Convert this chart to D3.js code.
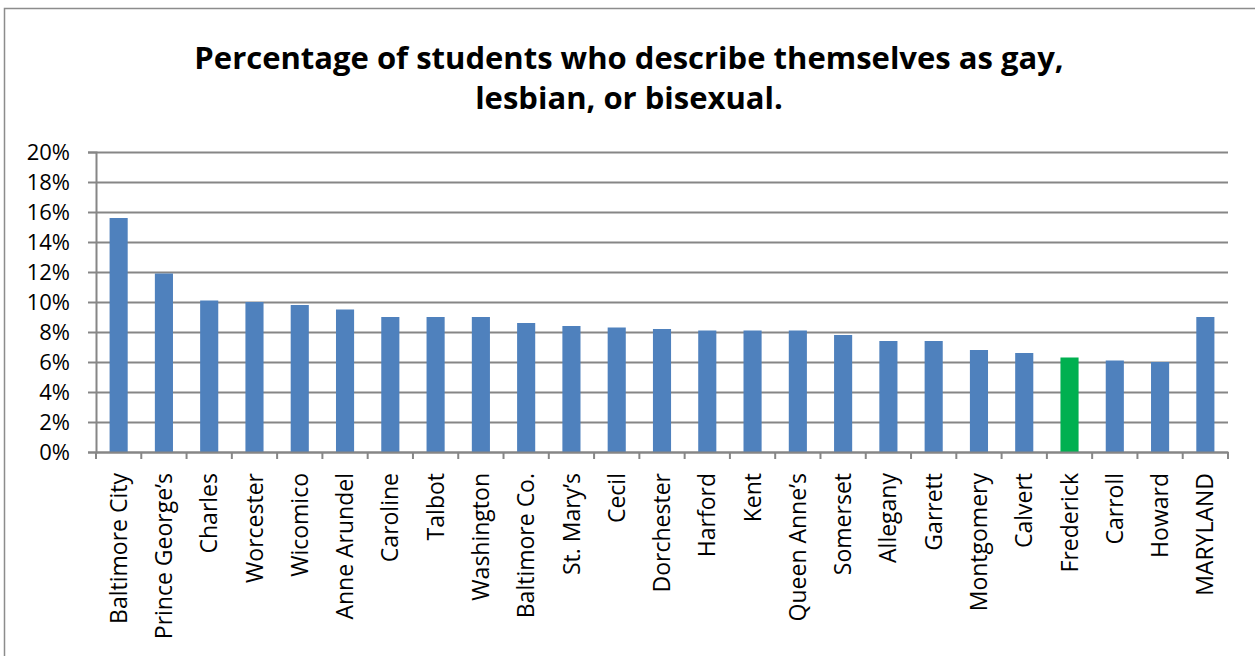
<!DOCTYPE html>
<html>
<head>
<meta charset="utf-8">
<script src="https://cdn.jsdelivr.net/npm/d3@7"></script>
<style>
  body { margin: 0; background: #fff; }
  svg { display: block; }
</style>
</head>
<body>
<svg id="chart" width="1255" height="656"></svg>
<script>
// chart data
const counties = ['Baltimore City', 'Prince George\u2019s', 'Charles', 'Worcester', 'Wicomico', 'Anne Arundel',
  'Caroline', 'Talbot', 'Washington', 'Baltimore Co.', 'St. Mary\u2019s', 'Cecil', 'Dorchester', 'Harford',
  'Kent', 'Queen Anne\u2019s', 'Somerset', 'Allegany', 'Garrett', 'Montgomery', 'Calvert', 'Frederick',
  'Carroll', 'Howard', 'MARYLAND'];
const percentGLB = [15.6, 11.9, 10.1, 10.0, 9.8, 9.5, 9.0, 9.0, 9.0, 8.6, 8.4, 8.3, 8.2, 8.1,
  8.1, 8.1, 7.8, 7.4, 7.4, 6.8, 6.6, 6.3, 6.1, 6.0, 9.0];
const highlighted = ['Frederick'];
const yTicks = [0, 2, 4, 6, 8, 10, 12, 14, 16, 18, 20];
const titleLines = ['Percentage of students who describe themselves as gay,', 'lesbian, or bisexual.'];

const svg = d3.select('#chart');
const margin = { top: 152, right: 27, bottom: 204, left: 96 };
const width = 1255, height = 656;

// outer chart border
svg.append('rect')
  .attr('x', 4.5).attr('y', 8.5)
  .attr('width', 1400).attr('height', 800)
  .attr('fill', 'none')
  .attr('stroke', '#8c8c8c')
  .attr('stroke-width', 1.5);

// title
svg.append('g').selectAll('text')
  .data(titleLines)
  .enter().append('text')
  .attr('x', 629)
  .attr('y', (d, i) => 69 + i * 40)
  .attr('text-anchor', 'middle')
  .attr('font-family', 'Open Sans, sans-serif')
  .attr('font-weight', 'bold')
  .attr('font-size', 31)
  .attr('fill', '#000')
  .text(d => d);

const x = d3.scaleBand().domain(counties)
  .range([margin.left, width - margin.right])
  .paddingInner(0.6).paddingOuter(0.3);
const y = d3.scaleLinear().domain([0, 20]).range([height - margin.bottom, margin.top]);

// gridlines
svg.append('g')
  .attr('transform', `translate(${margin.left},0)`)
  .call(d3.axisLeft(y).tickValues(yTicks).tickSize(-(width - margin.right - margin.left)).tickFormat(''))
  .call(g => g.select('.domain').remove())
  .call(g => g.selectAll('line').attr('stroke', '#868686').attr('stroke-width', 2));

// bars
svg.append('g')
  .selectAll('rect')
  .data(percentGLB)
  .enter().append('rect')
  .attr('x', (d, i) => x(counties[i]))
  .attr('y', d => y(d))
  .attr('width', x.bandwidth())
  .attr('height', d => y(0) - y(d))
  .attr('fill', (d, i) => highlighted.includes(counties[i]) ? '#00B050' : '#4F81BD');

// y axis
const yAxis = svg.append('g')
  .attr('transform', `translate(${margin.left},0)`)
  .call(d3.axisLeft(y).tickValues(yTicks).tickSize(8).tickPadding(18).tickFormat(d => d + '%'));
yAxis.select('.domain').attr('stroke', '#868686').attr('stroke-width', 2);
yAxis.selectAll('line').attr('stroke', '#868686').attr('stroke-width', 2);
yAxis.selectAll('text')
  .attr('font-family', 'Open Sans, sans-serif')
  .attr('font-size', 22)
  .attr('fill', '#000');

// x axis, ticks sit on the band boundaries
const xAxis = svg.append('g')
  .attr('transform', `translate(0,${y(0)})`)
  .call(d3.axisBottom(x).tickSize(0).tickPadding(0));
xAxis.select('.domain').attr('stroke', '#868686').attr('stroke-width', 2);
const step = x.step();
xAxis.append('g').selectAll('line')
  .data(d3.range(counties.length + 1))
  .enter().append('line')
  .attr('x1', i => margin.left + i * step)
  .attr('x2', i => margin.left + i * step)
  .attr('y1', 0).attr('y2', 7)
  .attr('stroke', '#868686')
  .attr('stroke-width', 2);
xAxis.selectAll('.tick text')
  .attr('font-family', 'Open Sans, sans-serif')
  .attr('font-size', 23)
  .attr('fill', '#000')
  .attr('text-anchor', 'end')
  .attr('dy', '0.35em')
  .attr('transform', 'translate(0,21) rotate(-90)');
</script>
</body>
</html>
